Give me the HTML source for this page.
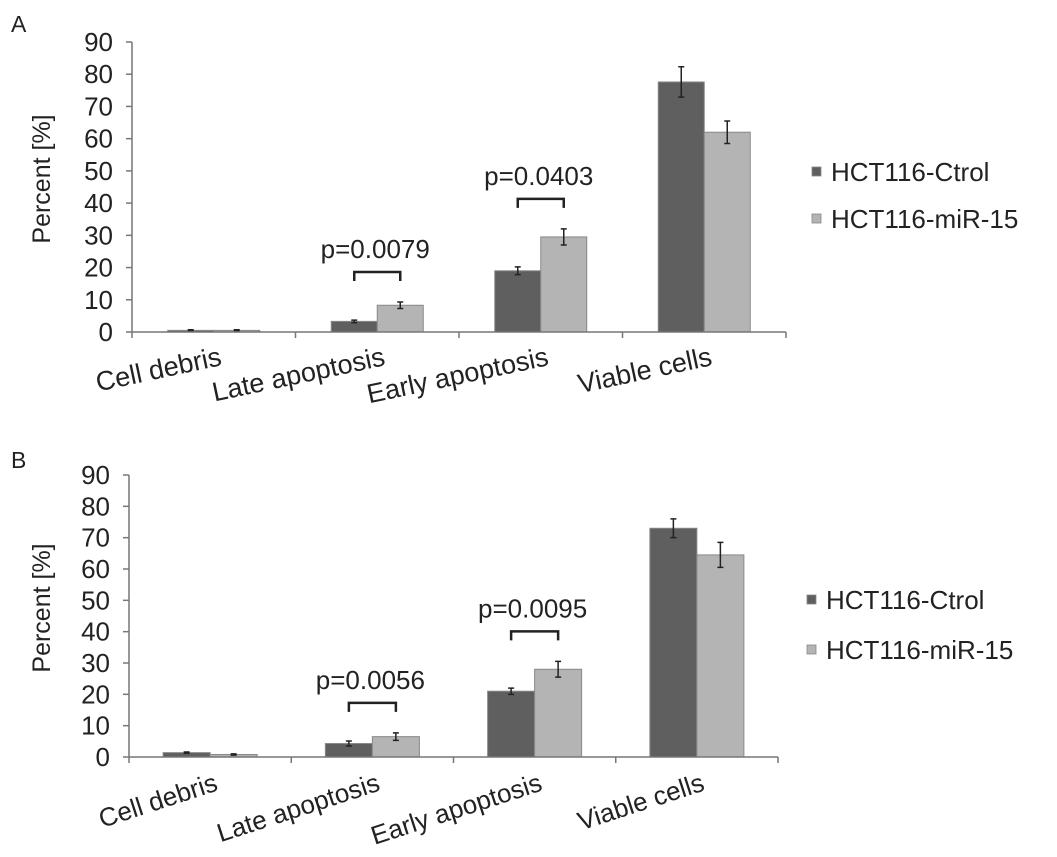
<!DOCTYPE html>
<html><head><meta charset="utf-8"><style>
html,body{margin:0;padding:0;background:#fff;}
svg{display:block;font-family:"Liberation Sans",Arial,sans-serif;}
</style></head><body>
<svg id="chart" width="1057" height="857" viewBox="0 0 1057 857" xmlns="http://www.w3.org/2000/svg"></svg>
<script>
const categories = ["Cell debris","Late apoptosis","Early apoptosis","Viable cells"];
const seriesNames = ["HCT116-Ctrol","HCT116-miR-15"];
const yTicks = [0,10,20,30,40,50,60,70,80,90];
const ctrlA = [0.5, 3.3, 19, 77.6];
const mirA = [0.5, 8.3, 29.5, 62];
const ctrlErrA = [0.2, 0.4, 1.2, 4.7];
const mirErrA = [0.2, 1.0, 2.5, 3.5];
const pLabelsA = ["", "p=0.0079", "p=0.0403", ""];
const ctrlB = [1.4, 4.3, 21, 73];
const mirB = [0.8, 6.5, 28, 64.5];
const ctrlErrB = [0.2, 0.8, 1.0, 3.0];
const mirErrB = [0.2, 1.2, 2.5, 4.0];
const pLabelsB = ["", "p=0.0056", "p=0.0095", ""];

const svg = document.getElementById('chart');
const NS = "http://www.w3.org/2000/svg";
function mk(tag, attrs, parent){
  const e = document.createElementNS(NS, tag);
  for (const k in attrs) e.setAttribute(k, attrs[k]);
  (parent||svg).appendChild(e);
  return e;
}
const colors = ["#5f5f5f","#b4b4b4"];

function panel(cfg){
  const g = mk('g', {});
  
  
  const x0=cfg.x0, x1=cfg.x1, y0=cfg.y0, yTop=cfg.yTop;
  const yScale = v => y0 - (v/90)*(y0-yTop);
  const cw = (x1-x0)/categories.length;
  const xCenter = i => x0 + cw*(i+0.5);
  const bw = cfg.bw;

  const letter = mk('text', {x:11, y:cfg.letterY, 'font-size':23, fill:'#222'}, g);
  letter.textContent = cfg.letter;
  
  

  const ya = mk('line', {x1:x0, y1:yTop, x2:x0, y2:y0, stroke:'#777', 'stroke-width':1.5}, g);
  
  
  yTicks.forEach(t=>{
    const y = yScale(t);
    mk('line', {x1:x0-6, y1:y, x2:x0, y2:y, stroke:'#777','stroke-width':1.5}, g);
    const tl = mk('text', {x:x0-19, y:y+9, 'font-size':26, 'text-anchor':'end', fill:'#222'}, g);
    tl.textContent = t;
    
    
  });
  const yt = mk('text', {x:0, y:0, 'font-size':25, 'text-anchor':'middle', fill:'#222',
    transform:`translate(${cfg.ylabX},${(y0+yTop)/2 - 8}) rotate(-90)`}, g);
  yt.textContent = "Percent [%]";
  
  

  const vals = [cfg.ctrl, cfg.mir], errs = [cfg.ctrlErr, cfg.mirErr];
  categories.forEach((c,i)=>{
    [0,1].forEach(s=>{
      const v = vals[s][i], e = errs[s][i];
      const bx = xCenter(i) - bw + s*bw;
      const r = mk('rect', {x:bx, y:yScale(v), width:bw, height:y0-yScale(v), fill:colors[s], stroke:'#888','stroke-width':1}, g);
      
      
      const ex = bx + bw/2;
      const eb = mk('path', {d:`M${ex},${yScale(v+e)}V${yScale(v-e)}M${ex-3},${yScale(v+e)}H${ex+3}M${ex-3},${yScale(v-e)}H${ex+3}`, stroke:'#222','stroke-width':1.5, fill:'none'}, g);
      
      
    });
    if (cfg.p[i]) {
      const top = Math.max(vals[0][i]+errs[0][i], vals[1][i]+errs[1][i]);
      const by = yScale(top) - cfg.brGap;
      const cx = xCenter(i);
      const br = mk('path', {d:`M${cx-bw/2},${by+9}V${by}H${cx+bw/2}V${by+9}`, stroke:'#222','stroke-width':2.5, fill:'none'}, g);
      
      
      const pt = mk('text', {x:cx-2, y:by-14, 'font-size':26, 'text-anchor':'middle', fill:'#222'}, g);
      pt.textContent = cfg.p[i];
      
      
    }
  });

  const xa = mk('line', {x1:x0, y1:y0, x2:x1, y2:y0, stroke:'#777','stroke-width':1.5}, g);
  
  
  for (let k=0;k<=categories.length;k++){
    mk('line', {x1:x0+cw*k, y1:y0, x2:x0+cw*k, y2:y0+6, stroke:'#777','stroke-width':1.5}, g);
  }
  categories.forEach((c,i)=>{
    const tx = xCenter(i)+cfg.lblDx, ty = y0+cfg.lblDy;
    const t = mk('text', {x:tx, y:ty, 'font-size':cfg.lblFont, 'text-anchor':'end', fill:'#222', transform:`rotate(${cfg.rot},${tx},${ty})`}, g);
    t.textContent = c;
    
    
  });

  seriesNames.forEach((n,s)=>{
    const ly = cfg.legY[s];
    const sq = mk('rect', {x:cfg.legX, y:ly-5, width:9, height:9, fill:colors[s], stroke:'#888','stroke-width':0.8}, g);
    
    
    const lt = mk('text', {x:cfg.legX+19, y:ly+9, 'font-size':26, fill:'#222'}, g);
    lt.textContent = n;
    
    
  });
}

panel({letter:'A', letterY:32, x0:132, x1:786, y0:332, yTop:42, bw:46, ylabX:50,
  ctrl:ctrlA, mir:mirA, ctrlErr:ctrlErrA, mirErr:mirErrA, p:pLabelsA, brGap:30,
  lblDx:9, lblDy:33, lblFont:27, rot:-12, legX:812, legY:[172,219]});
panel({letter:'B', letterY:468, x0:129, x1:778, y0:757, yTop:475, bw:47, ylabX:50,
  ctrl:ctrlB, mir:mirB, ctrlErr:ctrlErrB, mirErr:mirErrB, p:pLabelsB, brGap:30,
  lblDx:9, lblDy:33, lblFont:26, rot:-18, legX:807, legY:[600,650]});
</script>
</body></html>
